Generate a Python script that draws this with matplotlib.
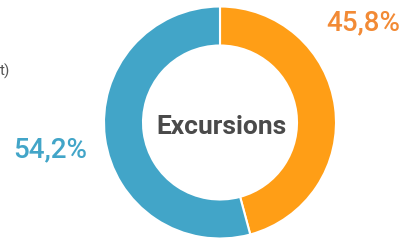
import matplotlib
matplotlib.use("Agg")
import matplotlib.pyplot as plt

labels = ["Orange", "Bleu"]
values = [45.8, 54.2]
value_labels = ["45,8%", "54,2%"]
colors = ["#FF9E16", "#42A5C8"]
label_colors = ["#F28A35", "#42A5C8"]
center_title = "Excursions"

fig = plt.figure(figsize=(4.05, 2.40), dpi=100)
ax = fig.add_axes([0, 0, 1, 1])
ax.pie(values, colors=colors, startangle=90, counterclock=False,
       center=(220, 117.5), radius=116,
       wedgeprops=dict(width=39, edgecolor="white", linewidth=1.5))
ax.set_xlim(0, 405)
ax.set_ylim(0, 240)
ax.set_aspect("equal")
ax.axis("off")

ax.text(221, 113, center_title, ha="center", va="center", fontsize=19,
        fontweight="bold", color="#4A4A4A", family="Roboto")
ax.text(400, 217, value_labels[0], ha="right", va="center", fontsize=20,
        fontweight="medium", color=label_colors[0], family="Roboto")
ax.text(13, 90, value_labels[1], ha="left", va="center", fontsize=20,
        fontweight="medium", color=label_colors[1], family="Roboto")
ax.text(0, 169, "t)", ha="left", va="center", fontsize=11,
        color="#555555", family="Roboto")

fig.savefig("out.png", dpi=100)
